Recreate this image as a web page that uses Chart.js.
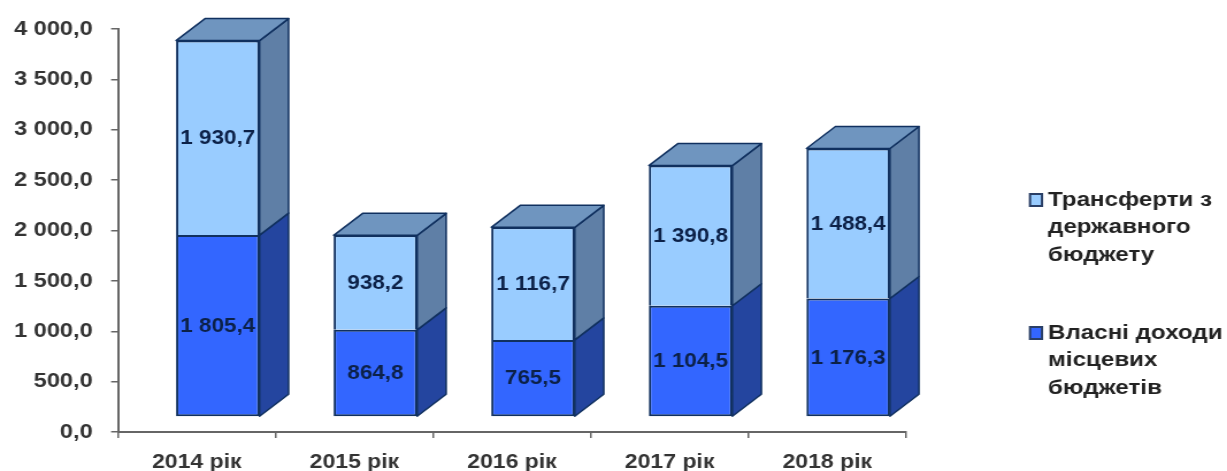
<!DOCTYPE html>
<html>
<head>
<meta charset="utf-8">
<style>
  html, body { margin: 0; background: #fff; overflow: hidden; }
  /* the original picture is stretched sideways and soft, text included */
  #chart { display: block; transform: scaleX(1.15); transform-origin: 0 0; filter: blur(0.55px); }
</style>
<script src="https://cdn.jsdelivr.net/npm/chart.js@4"></script>
</head>
<body>
<canvas id="chart" width="1067" height="471"></canvas>
<script>
const years = ['2014 рік', '2015 рік', '2016 рік', '2017 рік', '2018 рік'];
const ownIncome = [1805.4, 864.8, 765.5, 1104.5, 1176.3];
const transfers = [1930.7, 938.2, 1116.7, 1390.8, 1488.4];
const ownLegend = ['Власні доходи', 'місцевих', 'бюджетів'];
const transfersLegend = ['Трансферти з', 'державного', 'бюджету'];

const SX = 1.15; // horizontal stretch of the canvas
const FAMILY = '"Liberation Sans", Arial, sans-serif';
const shift = { x: 21 / SX, y: -15 };  // front faces sit off the axes
const depth = { x: 29 / SX, y: -22 };
const edge = '#10305f';

function fmt(v) {
  const [a, b] = v.toFixed(1).split('.');
  return a.replace(/\B(?=(\d{3})+$)/g, ' ') + ',' + b;
}

function poly(ctx, pts, fill) {
  ctx.beginPath();
  pts.forEach((p, i) => i ? ctx.lineTo(p[0], p[1]) : ctx.moveTo(p[0], p[1]));
  ctx.closePath();
  ctx.fillStyle = fill;
  ctx.fill();
  ctx.stroke();
}

// side and top faces, then shift the bars themselves
const box3d = {
  id: 'box3d',
  beforeDatasetsDraw(chart) {
    const ctx = chart.ctx;
    ctx.save();
    ctx.translate(shift.x, shift.y);
    ctx.strokeStyle = edge;
    ctx.lineWidth = 1.5;
    ctx.lineJoin = 'round';
    chart.data.datasets.forEach((ds, i) => {
      chart.getDatasetMeta(i).data.forEach(bar => {
        const { x, y, base, width } = bar.getProps(['x', 'y', 'base', 'width'], true);
        const l = x - width / 2, r = x + width / 2;
        poly(ctx, [[r, base], [r + depth.x, base + depth.y], [r + depth.x, y + depth.y], [r, y]], ds.sideColor);
        if (i === chart.data.datasets.length - 1) {
          poly(ctx, [[l, y], [l + depth.x, y + depth.y], [r + depth.x, y + depth.y], [r, y]], ds.topColor);
        }
      });
    });
  },
  afterDatasetsDraw(chart) {
    const ctx = chart.ctx;
    ctx.fillStyle = '#0c2148';
    ctx.font = 'bold 19.5px ' + FAMILY;
    ctx.textAlign = 'center';
    ctx.textBaseline = 'middle';
    chart.data.datasets.forEach((ds, i) => {
      chart.getDatasetMeta(i).data.forEach((bar, j) => {
        const { x, y, base } = bar.getProps(['x', 'y', 'base'], true);
        ctx.fillText(fmt(ds.data[j]), x, (y + base) / 2 + 1);
      });
    });
    ctx.restore();
  }
};

// wrapped legend, the built-in one can't break lines like this
const sideLegend = {
  id: 'sideLegend',
  afterDraw(chart) {
    const ctx = chart.ctx;
    const groups = [[transfersLegend, chart.data.datasets[1], 200], [ownLegend, chart.data.datasets[0], 333]];
    ctx.save();
    ctx.font = 'bold 21px ' + FAMILY;
    ctx.textBaseline = 'middle';
    groups.forEach(([lines, ds, top]) => {
      ctx.fillStyle = ds.backgroundColor;
      ctx.strokeStyle = '#2a3f66';
      ctx.lineWidth = 2;
      ctx.fillRect(1030 / SX, top - 6, 12 / SX, 12);
      ctx.strokeRect(1030 / SX, top - 6, 12 / SX, 12);
      ctx.fillStyle = '#222';
      lines.forEach((t, k) => ctx.fillText(t, 1048 / SX, top + k * 27.5));
    });
    ctx.restore();
  }
};

new Chart(document.getElementById('chart'), {
  type: 'bar',
  data: {
    labels: years,
    datasets: [
      { label: 'Власні доходи місцевих бюджетів', data: ownIncome, backgroundColor: '#3366ff', sideColor: '#24459f',
        borderColor: edge, borderWidth: 2, borderSkipped: false, clip: false },
      { label: 'Трансферти з державного бюджету', data: transfers, backgroundColor: '#99ccff', sideColor: '#5f7fa6', topColor: '#6f95bf',
        borderColor: edge, borderWidth: 2, borderSkipped: 'bottom', clip: false }
    ]
  },
  options: {
    responsive: false,
    animation: false,
    layout: { padding: { left: 0, right: 1067 - 906 / SX, top: 29, bottom: 0 } },
    plugins: { legend: { display: false }, tooltip: { enabled: false } },
    datasets: { bar: { barPercentage: 0.53, categoryPercentage: 1 } },
    scales: {
      x: {
        stacked: true,
        afterFit(scale) { scale.height = 39; },
        grid: { drawOnChartArea: false, color: '#666', tickLength: 6, lineWidth: 1.5 },
        border: { color: '#666', width: 2 },
        ticks: { color: '#333', font: { family: FAMILY, size: 20, weight: 'bold' }, padding: 12, maxRotation: 0 }
      },
      y: {
        stacked: true,
        min: 0,
        max: 4000,
        afterFit(scale) { scale.width = 118 / SX; },
        grid: { drawOnChartArea: false, color: '#666', tickLength: 6, lineWidth: 1.5 },
        border: { color: '#666', width: 2 },
        ticks: { stepSize: 500, color: '#333', padding: 16, callback: v => fmt(v),
          font: { family: FAMILY, size: 20.5, weight: 'bold' } }
      }
    }
  },
  plugins: [box3d, sideLegend]
});
</script>
</body>
</html>
